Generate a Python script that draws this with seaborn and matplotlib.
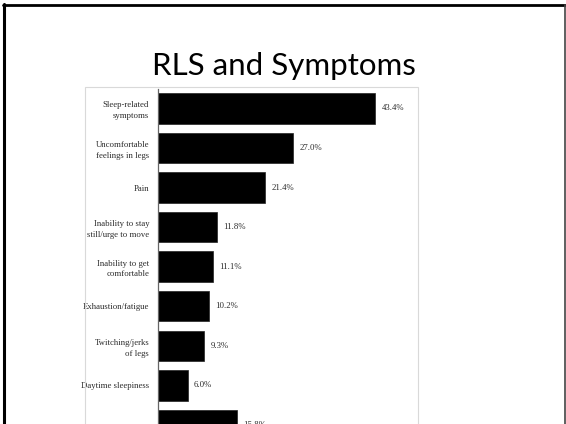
import pandas as pd
import seaborn as sns
import matplotlib.pyplot as plt
from matplotlib.patches import Rectangle
from matplotlib.lines import Line2D

# data
symptoms = [
    "Sleep-related\nsymptoms",
    "Uncomfortable\nfeelings in legs",
    "Pain",
    "Inability to stay\nstill/urge to move",
    "Inability to get\ncomfortable",
    "Exhaustion/fatigue",
    "Twitching/jerks\nof legs",
    "Daytime sleepiness",
    "Other",
]
percent = [43.4, 27.0, 21.4, 11.8, 11.1, 10.2, 9.3, 6.0, 15.8]
value_labels = [f"{v:.1f}%" for v in percent]

df = pd.DataFrame({"symptom": symptoms, "percent": percent})

W, H = 566, 424
sns.set_theme(style="white")
plt.rcParams['font.family'] = ['Liberation Serif', 'DejaVu Serif']

fig = plt.figure(figsize=(W / 100, H / 100), dpi=100)
fig.patch.set_facecolor('white')


def px_box(x0, y0, x1, y1):
    # pixel box (top-left origin) -> figure fraction [left, bottom, w, h]
    return [x0 / W, 1 - y1 / H, (x1 - x0) / W, (y1 - y0) / H]


# frame of the pasted chart image
fig.patches.append(Rectangle((85 / W, 1 - 440 / H), (418 - 85) / W, (440 - 87) / H,
                             transform=fig.transFigure, fill=False,
                             edgecolor='#d9d9d9', linewidth=0.8))

ax = fig.add_axes(px_box(157.5, 88.7, 408.5, 444.7))
sns.barplot(data=df, x="percent", y="symptom", color="black", width=0.77,
            saturation=1, edgecolor='#222222', linewidth=0.5, ax=ax)
ax.set_xlim(0, 50)
ax.set_ylim(8.5, -0.5)
ax.set_xlabel("")
ax.set_ylabel("")
ax.set_xticks([])
ax.tick_params(axis='y', length=0, pad=6, labelsize=6.3, labelcolor='#2a2a2a')
for t in ax.get_yticklabels():
    t.set_linespacing(1.45)
# last row's label sits below the slide edge in the original
ax.get_yticklabels()[-1].set_visible(False)
ax.set_facecolor('none')
for side in ['top', 'right', 'bottom']:
    ax.spines[side].set_visible(False)
ax.spines['left'].set_color('#666666')
ax.spines['left'].set_linewidth(0.9)

ax.bar_label(ax.containers[0], labels=value_labels, padding=4.5,
             fontsize=6.3, color='#2a2a2a')

# slide title
fig.text(284 / W, 1 - 75 / H, "RLS and Symptoms", ha='center', va='baseline',
         fontsize=22.5, family=['Lato', 'DejaVu Sans'], color='black')

# slide outline
fig.add_artist(Line2D([4 / W, 4 / W], [0, 1 - 4 / H], transform=fig.transFigure,
                      color='black', linewidth=2.2))
fig.add_artist(Line2D([3 / W, 565 / W], [1 - 5 / H, 1 - 5 / H], transform=fig.transFigure,
                      color='black', linewidth=2.0))
fig.add_artist(Line2D([565 / W, 565 / W], [0, 1 - 5 / H], transform=fig.transFigure,
                      color='#444444', linewidth=1.2))

fig.savefig("out.png", dpi=100)
